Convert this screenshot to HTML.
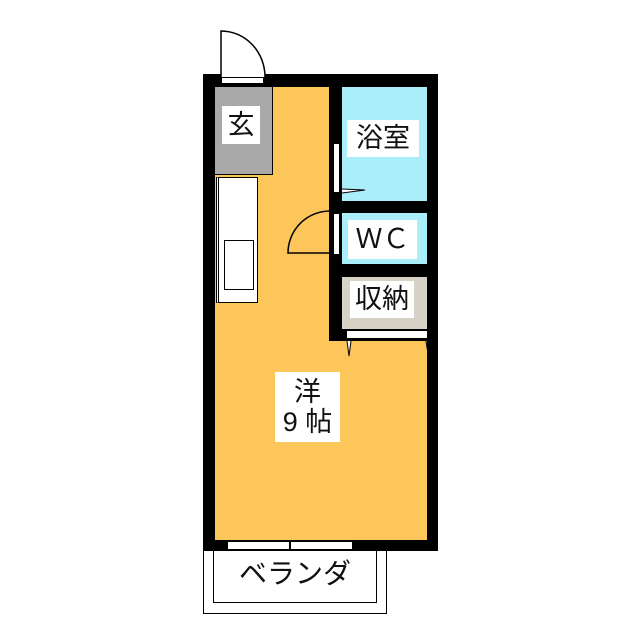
<!DOCTYPE html><html><head><style>
body{margin:0;background:#fff;width:640px;height:640px;position:relative;overflow:hidden;font-family:"Liberation Sans","Noto Sans CJK JP",sans-serif}
div{position:absolute;box-sizing:border-box}
.lb{background:#fff;color:#111;text-align:center;font-size:27px}
</style></head><body>
<div style="left:203px;top:74px;width:235px;height:477px;background:#000"></div>
<div style="left:215px;top:87px;width:212px;height:453px;background:#fdc65a"></div>
<div style="left:329px;top:74px;width:109px;height:267px;background:#000"></div>
<div style="left:342px;top:87px;width:85px;height:114px;background:#aaeefa"></div>
<div style="left:342px;top:213px;width:85px;height:51px;background:#aaeefa"></div>
<div style="left:342px;top:277px;width:85px;height:52px;background:#d6d3c6"></div>
<div style="left:346px;top:330px;width:82px;height:9px;background:#fff;border:1px solid #000"></div>
<div style="left:215px;top:87px;width:58px;height:88px;background:#a9a9a9;border-right:1px solid #000;border-bottom:1px solid #000"></div>
<div style="left:216px;top:177px;width:42px;height:126px;background:#fff;border:1px solid #000;border-left:3px double #000"></div>
<div style="left:224px;top:240px;width:30px;height:50px;background:#fff;border:1px solid #000"></div>
<div style="left:221px;top:77px;width:43px;height:7px;background:#fff;border:1px solid #000"></div>
<div style="left:333px;top:143px;width:7px;height:50px;background:#fff;border:1px solid #000"></div>
<div style="left:333px;top:213px;width:7px;height:42px;background:#fff;border:1px solid #000"></div>
<div style="left:227px;top:541px;width:126px;height:9px;background:#fff;border:1px solid #000"></div>
<div style="left:203px;top:551px;width:184px;height:63px;border:1px solid #000;border-top:none"></div>
<div style="left:213px;top:551px;width:164px;height:52px;border:1px solid #000;border-top:none"></div>
<svg style="position:absolute;left:0;top:0" width="640" height="640">
<path d="M221 77 V31 A44 46 0 0 1 265 77" fill="#fff" stroke="#000" stroke-width="1.5"/>
<path d="M288 253 A42 42 0 0 1 330 211 V253 Z" fill="none" stroke="#000" stroke-width="1.5"/>
<path d="M342 189 L365 190 L342 193" fill="#fff" stroke="#000"/>
<path d="M347 341 L349 356 L351 341" fill="#fff" stroke="#000"/>
<path d="M426 341 L428 354" stroke="#000"/>
<path d="M290 541 V551" stroke="#000" stroke-width="2"/>
</svg>
<div class="lb" style="left:222px;top:106px;width:38px;height:38px;line-height:38px">玄</div>
<div class="lb" style="left:347px;top:120px;width:72px;height:37px;line-height:37px">浴室</div>
<div class="lb" style="left:348px;top:220px;width:69px;height:39px;line-height:39px">ＷＣ</div>
<div class="lb" style="left:350px;top:281px;width:64px;height:37px;line-height:37px">収納</div>
<div class="lb" style="left:275px;top:372px;width:65px;height:70px;line-height:30px;padding-top:5px">洋<br>9 帖</div>
<div class="lb" style="left:220px;top:557px;width:150px;height:34px;line-height:34px;background:none;font-size:28px">ベランダ</div>
</body></html>
